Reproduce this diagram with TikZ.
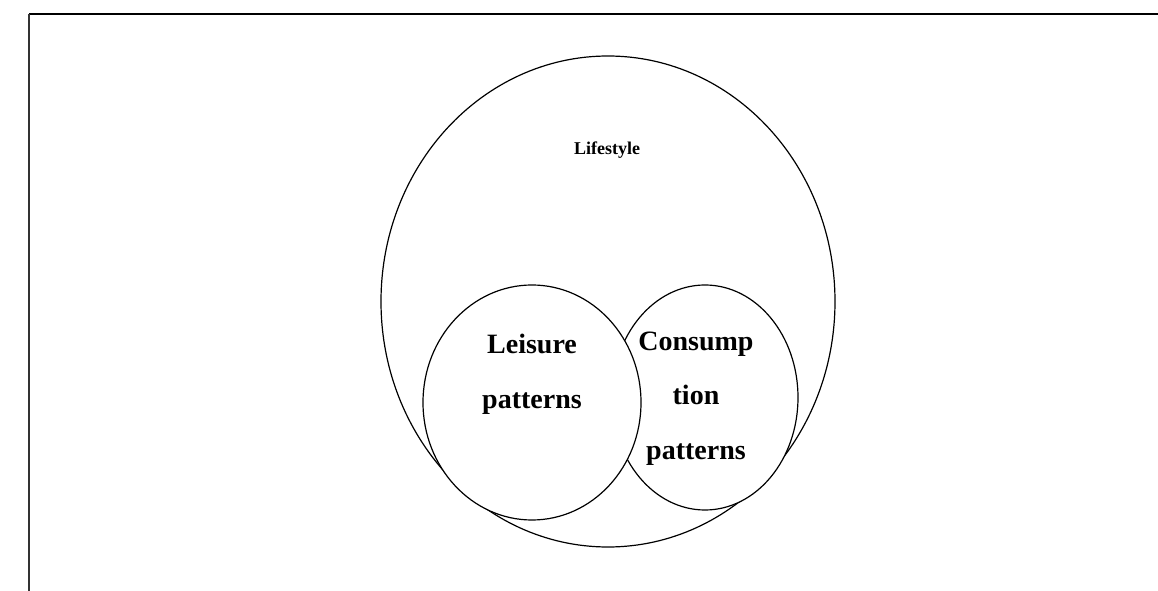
\documentclass[tikz,border=0pt]{standalone}
\usepackage{fontspec}
\setmainfont{Liberation Serif}
\usetikzlibrary{shapes.geometric}

\begin{document}
\begin{tikzpicture}[x=0.75pt, y=-0.75pt,
    set/.style={draw, ellipse, fill=white, line width=0.9pt, inner sep=0pt},
    label/.style={align=center, font=\bfseries\fontsize{21}{41}\selectfont}]
    \useasboundingbox (0,0) rectangle (1158,591);
    % Frame
    \coordinate (corner) at (29,14);
    \coordinate (topend) at (1158,14);
    \coordinate (leftend) at (29,591);
    \draw[line width=1.6pt] (corner) -- (topend);
    \draw[line width=1.2pt, black!80] (corner) -- (leftend);

    % Sets (leisure drawn last, on top)
    \node[set, minimum width=340.5pt, minimum height=368.25pt] (lifestyle) at (608,301.5) {};
    \node[set, minimum width=139.5pt, minimum height=168.75pt] (consumption) at (705,397.5) {};
    \node[set, minimum width=163.5pt, minimum height=176.25pt] (leisure) at (532,402.5) {};

    % Labels
    \node[font=\bfseries\fontsize{13.5}{16}\selectfont] (lifestyletext) at (607,150) {Lifestyle};
    \node[label] (leisuretext) at (532,374) {Leisure\\patterns};
    \node[label] (consumptiontext) at (696,398.5) {Consump\\tion\\patterns};
\end{tikzpicture}
\end{document}
